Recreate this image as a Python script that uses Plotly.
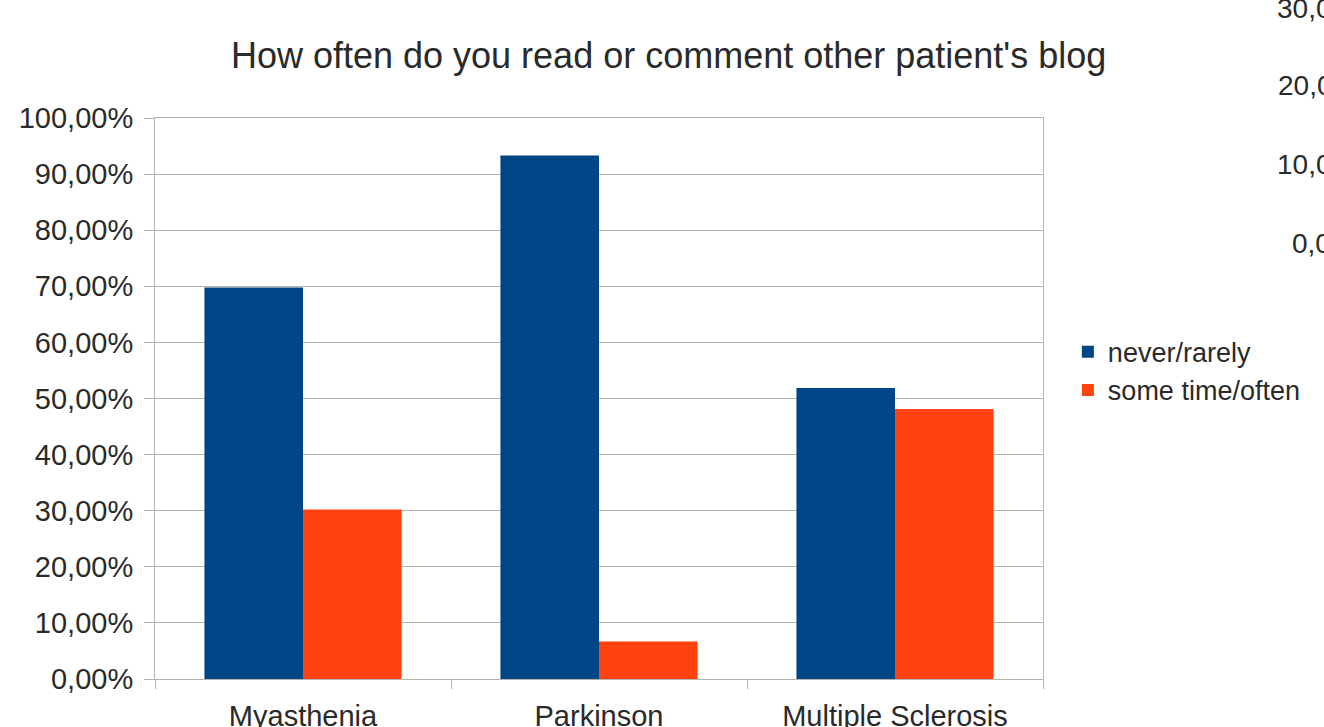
import plotly.graph_objects as go

# Survey answers per patient group (share of respondents, %)
categories = ["Myasthenia", "Parkinson", "Multiple Sclerosis"]
never_rarely = [69.8, 93.33, 51.85]
some_time_often = [30.2, 6.67, 48.15]

y_tick_values = [0, 10, 20, 30, 40, 50, 60, 70, 80, 90, 100]
y_tick_labels = ["0,00%", "10,00%", "20,00%", "30,00%", "40,00%", "50,00%",
                 "60,00%", "70,00%", "80,00%", "90,00%", "100,00%"]

# axis labels of the neighbouring chart, cut off at the right edge
side_labels = ["30,0", "20,0", "10,0", "0,0"]

FONT = "Liberation Sans"
TEXT = "#2a2a2a"
GRID = "#b3b3b3"

fig = go.Figure()
fig.add_trace(go.Bar(x=categories, y=never_rarely, name="never/rarely",
                     marker=dict(color="#004586", line=dict(width=0))))
fig.add_trace(go.Bar(x=categories, y=some_time_often, name="some time/often",
                     marker=dict(color="#ff420e", line=dict(width=0))))

fig.update_layout(
    width=1324, height=727,
    margin=dict(l=155, r=281, t=118, b=48),
    paper_bgcolor="white", plot_bgcolor="white",
    font=dict(family=FONT, size=28, color=TEXT),
    barmode="group", bargap=0.334, bargroupgap=0,
    title=dict(text="How often do you read or comment other patient's blog",
               x=0.505, xanchor="center", y=1 - 55 / 727, yanchor="middle",
               font=dict(family=FONT, size=36, color=TEXT)),
    legend=dict(x=1.028, xanchor="left", y=0.626, yanchor="top",
                font=dict(family=FONT, size=27, color=TEXT),
                bgcolor="rgba(0,0,0,0)", itemwidth=30, tracegroupgap=0),
    showlegend=True,
)

fig.update_xaxes(
    automargin=False,
    showgrid=False, showline=True, linecolor=GRID, linewidth=1, mirror=True,
    ticks="outside", tickson="boundaries", ticklen=9, tickcolor=GRID,
    ticklabelstandoff=11,
    tickfont=dict(family=FONT, size=29, color=TEXT),
)
fig.update_yaxes(
    automargin=False,
    range=[0, 100], tickmode="array", tickvals=y_tick_values, ticktext=y_tick_labels,
    showgrid=True, gridcolor=GRID, gridwidth=1,
    showline=True, linecolor=GRID, linewidth=1, mirror=True,
    ticks="outside", ticklen=10, tickcolor=GRID, ticklabelstandoff=5,
    tickfont=dict(family=FONT, size=29, color=TEXT), zeroline=False,
)

side_y = [9, 85, 165, 243]
side_x = [1275, 1276, 1275, 1290]
for label, px, py in zip(side_labels, side_x, side_y):
    fig.add_annotation(text=label, xref="paper", yref="paper",
                       x=(px - 155) / 888, y=(679 - py) / 561,
                       xanchor="left", yanchor="middle", showarrow=False,
                       font=dict(family=FONT, size=28, color=TEXT))

fig.write_html("out.html")
